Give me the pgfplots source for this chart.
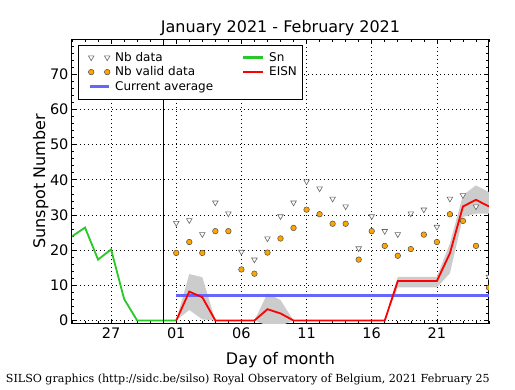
\documentclass[border=0pt]{standalone}
\usepackage{fontspec}
\setmainfont{DejaVu Sans}
\newfontfamily\seriffont{DejaVu Serif}
\usepackage{pgfplots}
\pgfplotsset{compat=1.18}
\definecolor{sngreen}{RGB}{40,200,40}
\definecolor{eisnred}{RGB}{255,0,0}
\definecolor{avgblue}{RGB}{102,102,255}
\definecolor{bandgray}{RGB}{204,204,204}
\definecolor{dotorange}{RGB}{255,165,0}
\begin{document}
\begin{tikzpicture}
\path[use as bounding box] (-72pt,-66pt) rectangle (443pt,324pt);
\begin{axis}[
  scale only axis, width=417pt, height=285pt,
  xmin=24, xmax=56, ymin=-1, ymax=80,
  xtick={27,32,37,42,47,52}, xticklabels={27,01,06,11,16,21},
  minor xtick={24,...,56},
  ytick={0,10,...,70}, minor ytick={0,2,...,80},
  tick align=inside, tick pos=both,
  major tick length=4.5pt, minor tick length=2.5pt,
  every tick/.style={black, line width=0.6pt},
  axis line style={black, line width=1pt},
  grid=major,
  major grid style={black, line width=0.6pt, dash pattern=on 1pt off 3pt},
  /pgf/number format/assume math mode=true,
  tick label style={font=\fontsize{14.5}{17}\selectfont},
  title={January 2021 - February 2021},
  title style={at={(axis description cs:0.5,1.0025)}, anchor=base, font=\fontsize{16}{19}\selectfont},
  xlabel={Day of month},
  xlabel style={at={(axis description cs:0.5,-0.142)}, anchor=base, font=\fontsize{16}{19}\selectfont},
  ylabel={Sunspot Number},
  ylabel style={at={(axis description cs:-0.0647,0.5)}, anchor=base, font=\fontsize{16}{19}\selectfont},
  clip marker paths=true,
  legend columns=2,
  legend cell align=left,
  legend style={at={(axis description cs:0.0144,0.979)}, anchor=north west,
    draw=black, fill=white,
    font=\fontsize{12}{14}\selectfont,
    /tikz/every even column/.append style={column sep=20pt},
    row sep=0pt, inner xsep=3pt, inner ysep=5pt},
]
% legend entries (row-major order)
\addlegendimage{legend image code/.code={
  \path[draw=none, fill=none] (0pt,0pt) -- (32pt,0pt);
  \draw[black!60, fill=white, line width=0.6pt] plot[mark=triangle*, mark size=3.2pt, mark options={rotate=180}, only marks] coordinates {(10pt,0pt) (26pt,0pt)};}}
\addlegendentry{Nb data}
\addlegendimage{legend image code/.code={
  \path[draw=none, fill=none] (0pt,0pt) -- (32pt,0pt);
  \fill[sngreen, draw=none] (8pt,-1.1pt) rectangle (28pt,1.1pt);}}
\addlegendentry{Sn}
\addlegendimage{legend image code/.code={
  \path[draw=none, fill=none] (0pt,0pt) -- (32pt,0pt);
  \draw[black!70, fill=dotorange, line width=0.5pt] plot[mark=*, mark size=2.8pt, only marks] coordinates {(10pt,0pt) (26pt,0pt)};}}
\addlegendentry{Nb valid data}
\addlegendimage{legend image code/.code={
  \path[draw=none, fill=none] (0pt,0pt) -- (32pt,0pt);
  \fill[eisnred, draw=none] (8pt,-1.1pt) rectangle (28pt,1.1pt);}}
\addlegendentry{EISN}
\addlegendimage{legend image code/.code={
  \path[draw=none, fill=none] (0pt,0pt) -- (32pt,0pt);
  \fill[avgblue, draw=none] (9pt,-1.4pt) rectangle (28pt,1.4pt);}}
\addlegendentry{Current average}

% EISN uncertainty band
\addplot[fill=bandgray, draw=none, forget plot] coordinates {
 (32,0) (33,13.2) (34,12.3) (35,0) (36,0) (37,0) (38,0) (39,7.7) (40,5.8)
 (41,0) (42,0) (43,0) (44,0) (45,0) (46,0) (47,0) (48,0)
 (49,12.4) (50,12.4) (51,12.4) (52,12.4) (53,21.9) (54,35.6) (55,38.4) (56,36.5)
 (56,30.4) (55,30.4) (54,29.4) (53,13.4) (52,9.4) (51,9.4) (50,9.4) (49,9.4)
 (48,0) (47,0) (46,0) (45,0) (44,0) (43,0) (42,0) (41,0)
 (40,-1.5) (39,-1.5) (38,0) (37,0) (36,0) (35,0) (34,0.3) (33,3.0) (32,0)
} -- cycle;

% current average
\addplot[avgblue, line width=2.6pt, forget plot] coordinates {(32,7.1) (56,7.1)};

% Sn
\addplot[sngreen, line width=1.8pt, forget plot] coordinates {
 (24,23.9) (25,26.4) (26,17.3) (27,20.2) (28,6.1) (29,0) (30,0) (31,0) (32,0)};

% EISN
\addplot[eisnred, line width=1.8pt, forget plot] coordinates {
 (32,0) (33,8.2) (34,6.6) (35,0) (36,0) (37,0) (38,0) (39,3.2) (40,2.0)
 (41,0) (42,0) (43,0) (44,0) (45,0) (46,0) (47,0) (48,0)
 (49,11.2) (50,11.2) (51,11.2) (52,11.2) (53,19.1) (54,32.4) (55,34.3) (56,32.4)};

% vertical separator at end of January
\addplot[black, line width=1pt, forget plot] coordinates {(31,-1) (31,80)};

% Nb data
\addplot[only marks, mark=triangle*, mark size=3.2pt,
  mark options={rotate=180, fill=white, draw=black!60, line width=0.6pt}, forget plot] coordinates {
 (32,27.7) (33,28.5) (34,24.5) (35,33.5) (36,30.4) (37,19.5) (38,17.3) (39,23.3)
 (40,29.6) (41,33.5) (42,39.5) (43,37.5) (44,34.6) (45,32.4) (46,20.5) (47,29.6)
 (48,25.4) (49,24.5) (50,30.4) (51,31.5) (52,26.6) (53,34.6) (54,35.6) (55,32.4) (56,12.4)};

% Nb valid data
\addplot[only marks, mark=*, mark size=2.8pt,
  mark options={fill=dotorange, draw=black!70, line width=0.5pt}, forget plot] coordinates {
 (32,19.2) (33,22.3) (34,19.2) (35,25.4) (36,25.4) (37,14.5) (38,13.3) (39,19.3)
 (40,23.3) (41,26.3) (42,31.5) (43,30.2) (44,27.5) (45,27.5) (46,17.3) (47,25.4)
 (48,21.2) (49,18.4) (50,20.3) (51,24.4) (52,22.3) (53,30.2) (54,28.3) (55,21.2) (56,9.3)};
\end{axis}
\node[anchor=base west, inner sep=0pt, font=\seriffont\fontsize{11.1}{13}\selectfont] at (-66.3pt,-58.7pt)
  {SILSO graphics (http://sidc.be/silso) Royal Observatory of Belgium, 2021 February 25};
\end{tikzpicture}
\end{document}
